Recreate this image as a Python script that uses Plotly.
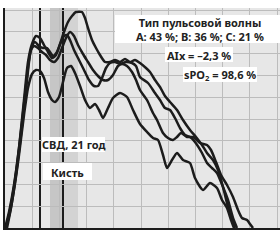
import plotly.graph_objects as go

# Time (arbitrary samples) and amplitude (arbitrary units) of four pulse waves
t_a = [0,4,9,14,19,23,27,31,35,39,43,47,51,55,59,63,67,71,77,80,83,87,91,95,100,105,110,115,120,125,130,135,141,145,150,155,160,165,172,178,185,191,197,202,208,213,218,223,227,230]
y_a = [0,16,43,80,128,166,184,192,190,183,176,170,173,184,196,206,212,216,216,210,200,188,180,173,166,166,168,166,169,166,168,165,160,156,148,141,132,126,118,108,98,91,83,75,68,58,41,21,8,0]

t_b = [1,5,10,15,20,24,27,30,34,38,42,45,48,52,56,59,62,65,69,74,79,84,89,93,97,101,105,110,115,121,127,131,135,143,150,155,160,165,170,175,180,185,190,197,202,207,212,218,223,228,232]
y_b = [0,18,48,88,133,168,182,186,182,180,180,176,172,176,186,192,193,188,178,168,158,148,142,142,150,160,165,166,164,166,165,162,151,145,135,128,120,118,110,100,93,91,86,75,65,60,55,41,28,10,0]

t_c = [2,6,11,16,21,24,26,29,33,37,41,45,49,53,57,61,65,69,73,78,83,88,93,98,103,108,113,117,122,127,131,135,142,148,152,158,163,168,172,176,182,188,195,202,206,211,216,222,228,233,237,242,245,248]
y_c = [0,20,53,93,138,166,178,182,180,176,173,168,166,170,180,190,196,192,183,174,166,158,152,148,148,153,162,164,162,156,148,138,128,115,108,95,90,88,91,95,91,91,85,83,78,66,53,43,31,18,10,8,4,0]

t_d = [1,5,9,14,19,23,27,31,35,39,43,47,50,54,58,62,66,70,75,80,85,90,94,98,103,108,115,122,128,135,142,148,153,158,162,167,172,178,185,190,198,205,212,217,222,226,229]
y_d = [0,16,38,73,113,140,154,158,157,150,136,128,126,131,146,160,162,155,142,128,120,124,118,110,120,130,135,131,118,104,96,90,88,73,60,68,75,68,65,50,38,45,40,28,20,8,0]

series = [(t_a, y_a), (t_b, y_b), (t_c, y_c), (t_d, y_d)]

marker_lines = [35, 58]
band_dark = (45, 57)
band_light = (58, 73)

title_lines = ["Тип пульсовой волны", "A: 43 %; B: 36 %; C: 21 %"]
aix_text = "AIx = –2,3 %"
spo2_text = "sPO<sub>2</sub> = 98,6 %"
subject_text = "СВД, 21 год"
site_text = "Кисть"

fig = go.Figure()
for t, y in series:
    fig.add_trace(go.Scatter(x=t, y=y, mode="lines",
                             line=dict(color="#1c1c1c", width=2.5, shape="spline", smoothing=0.6),
                             hoverinfo="skip", showlegend=False))

shapes = []
shapes.append(dict(type="rect", xref="x", yref="paper", x0=band_dark[0], x1=band_dark[1], y0=0, y1=1,
                   fillcolor="#c6c6c6", line=dict(width=0), layer="below"))
shapes.append(dict(type="rect", xref="x", yref="paper", x0=band_light[0], x1=band_light[1], y0=0, y1=1,
                   fillcolor="#d3d3d3", line=dict(width=0), layer="below"))
for xv in marker_lines:
    shapes.append(dict(type="line", xref="x", yref="paper", x0=xv, x1=xv, y0=0, y1=1,
                       line=dict(color="#1c1c1c", width=2), layer="below"))

boxes = [(110, 276, 185, 213), (160, 228, 166, 181), (178, 252, 146, 161), (37, 100, 76, 91), (38, 87, 48, 65)]
for x0, x1, y0, y1 in boxes:
    shapes.append(dict(type="rect", xref="x", yref="y", x0=x0, x1=x1, y0=y0, y1=y1,
                       fillcolor="white", line=dict(width=0), layer="above"))

font = dict(family="Noto Sans", size=11, color="#222222")
ann = [
    dict(x=195, y=199, text="<b>" + title_lines[0] + "</b><br><b>" + title_lines[1] + "</b>"),
    dict(x=194, y=173, text="<b>" + aix_text + "</b>"),
    dict(x=215, y=153, text="<b>" + spo2_text + "</b>"),
    dict(x=69, y=84, text="<b>" + subject_text + "</b>"),
    dict(x=62, y=56, text="<b>" + site_text + "</b>"),
]
for a in ann:
    a.update(xref="x", yref="y", showarrow=False, font=font, xanchor="center", yanchor="middle")

fig.update_layout(
    width=280, height=240,
    margin=dict(l=5, r=0, t=8, b=12),
    paper_bgcolor="white", plot_bgcolor="#e7e7e7",
    shapes=shapes, annotations=ann,
    xaxis=dict(range=[0, 275], tick0=0, dtick=27.2, showgrid=True, gridcolor="#bcbcbc", gridwidth=1,
               showticklabels=False, ticks="", zeroline=False, showline=True, linecolor="#1c1c1c", linewidth=2),
    yaxis=dict(range=[0, 220], tick0=0, dtick=21.8, showgrid=True, gridcolor="#bcbcbc", gridwidth=1,
               showticklabels=False, ticks="", zeroline=False, showline=True, linecolor="#1c1c1c", linewidth=2),
)

fig.write_html("out.html")
